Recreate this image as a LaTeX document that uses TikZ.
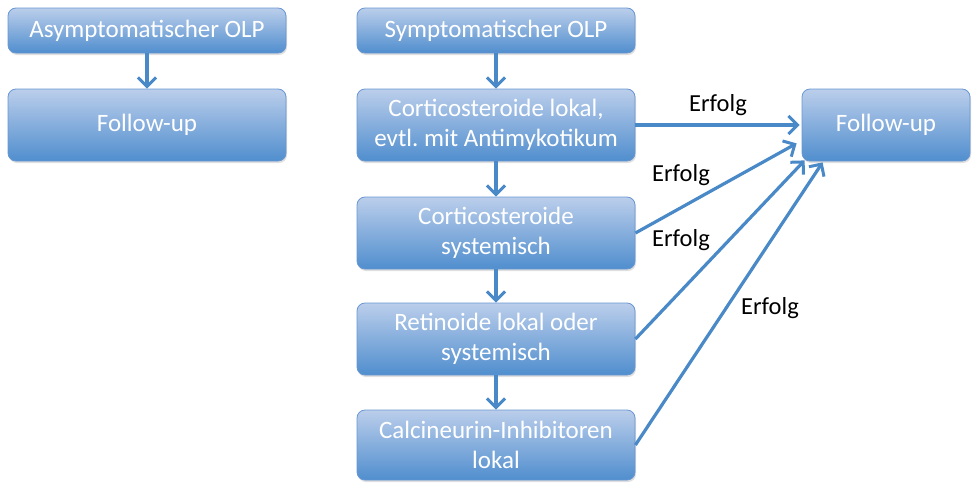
\documentclass[tikz,border=0pt]{standalone}
\usepackage{fontspec}
\setmainfont{Carlito}
\frenchspacing
\usetikzlibrary{arrows.meta,shadows,calc}
\definecolor{boxtop}{RGB}{187,206,235}
\definecolor{boxbot}{RGB}{80,142,206}
\definecolor{boxline}{RGB}{104,150,210}
\definecolor{arrowc}{RGB}{74,137,200}
\tikzset{
  box/.style={draw=boxline, line width=0.8pt, rounded corners=8pt,
    top color=boxtop, bottom color=boxbot, text=white, align=center,
    font=\fontsize{25}{30}\selectfont, inner sep=0pt,
    drop shadow={opacity=0.25, shadow xshift=1pt, shadow yshift=-2pt}},
  conn/.style={draw=arrowc, line width=3.2pt,
    -{Straight Barb[length=9pt,width=18pt,line width=3pt]}},
  lbl/.style={font=\fontsize{24.5}{28}\selectfont, text=black}
}
\begin{document}
\begin{tikzpicture}[x=1pt,y=-1pt]
\useasboundingbox (0,0) rectangle (973,482);
\node[box, minimum width=278pt, minimum height=45pt] (a1) at (147,30.5) {Asymptomatischer OLP};
\node[box, minimum width=278pt, minimum height=72pt] (a2) at (147,125) {Follow-up};
\node[box, minimum width=278pt, minimum height=45pt] (s) at (496,30.5) {Symptomatischer OLP};
\node[box, minimum width=278pt, minimum height=72pt] (b1) at (496,125) {Corticosteroide lokal,\\evtl. mit Antimykotikum};
\node[box, minimum width=278pt, minimum height=72pt] (b2) at (496,233) {Corticosteroide\\systemisch};
\node[box, minimum width=278pt, minimum height=72pt] (b3) at (496,339) {Retinoide lokal oder\\systemisch};
\node[box, minimum width=278pt, minimum height=70pt] (b4) at (496,445) {Calcineurin-Inhibitoren\\lokal};
\node[box, minimum width=168pt, minimum height=72pt] (f) at (886,125) {Follow-up};
\coordinate (e2) at ($(f.south west)+(-5,-18)$);
\coordinate (e3) at ($(f.south west)+(3,-1)$);
\coordinate (e4) at ($(f.south west)+(21,1)$);
\draw[conn] (a1) -- (a2);
\draw[conn] (s) -- (b1);
\draw[conn] (b1) -- (b2);
\draw[conn] (b2) -- (b3);
\draw[conn] (b3) -- (b4);
\draw[conn] (b1.east) -- ($(f.west)+(-2,0)$);
\draw[conn] (b2.east) -- (e2);
\draw[conn] (b3.east) -- (e3);
\draw[conn] (b4.east) -- (e4);
\node[lbl] (l1) at (718,105) {Erfolg};
\node[lbl] (l2) at (681,175) {Erfolg};
\node[lbl] (l3) at (681,240) {Erfolg};
\node[lbl] (l4) at (770,308) {Erfolg};
\end{tikzpicture}
\end{document}
